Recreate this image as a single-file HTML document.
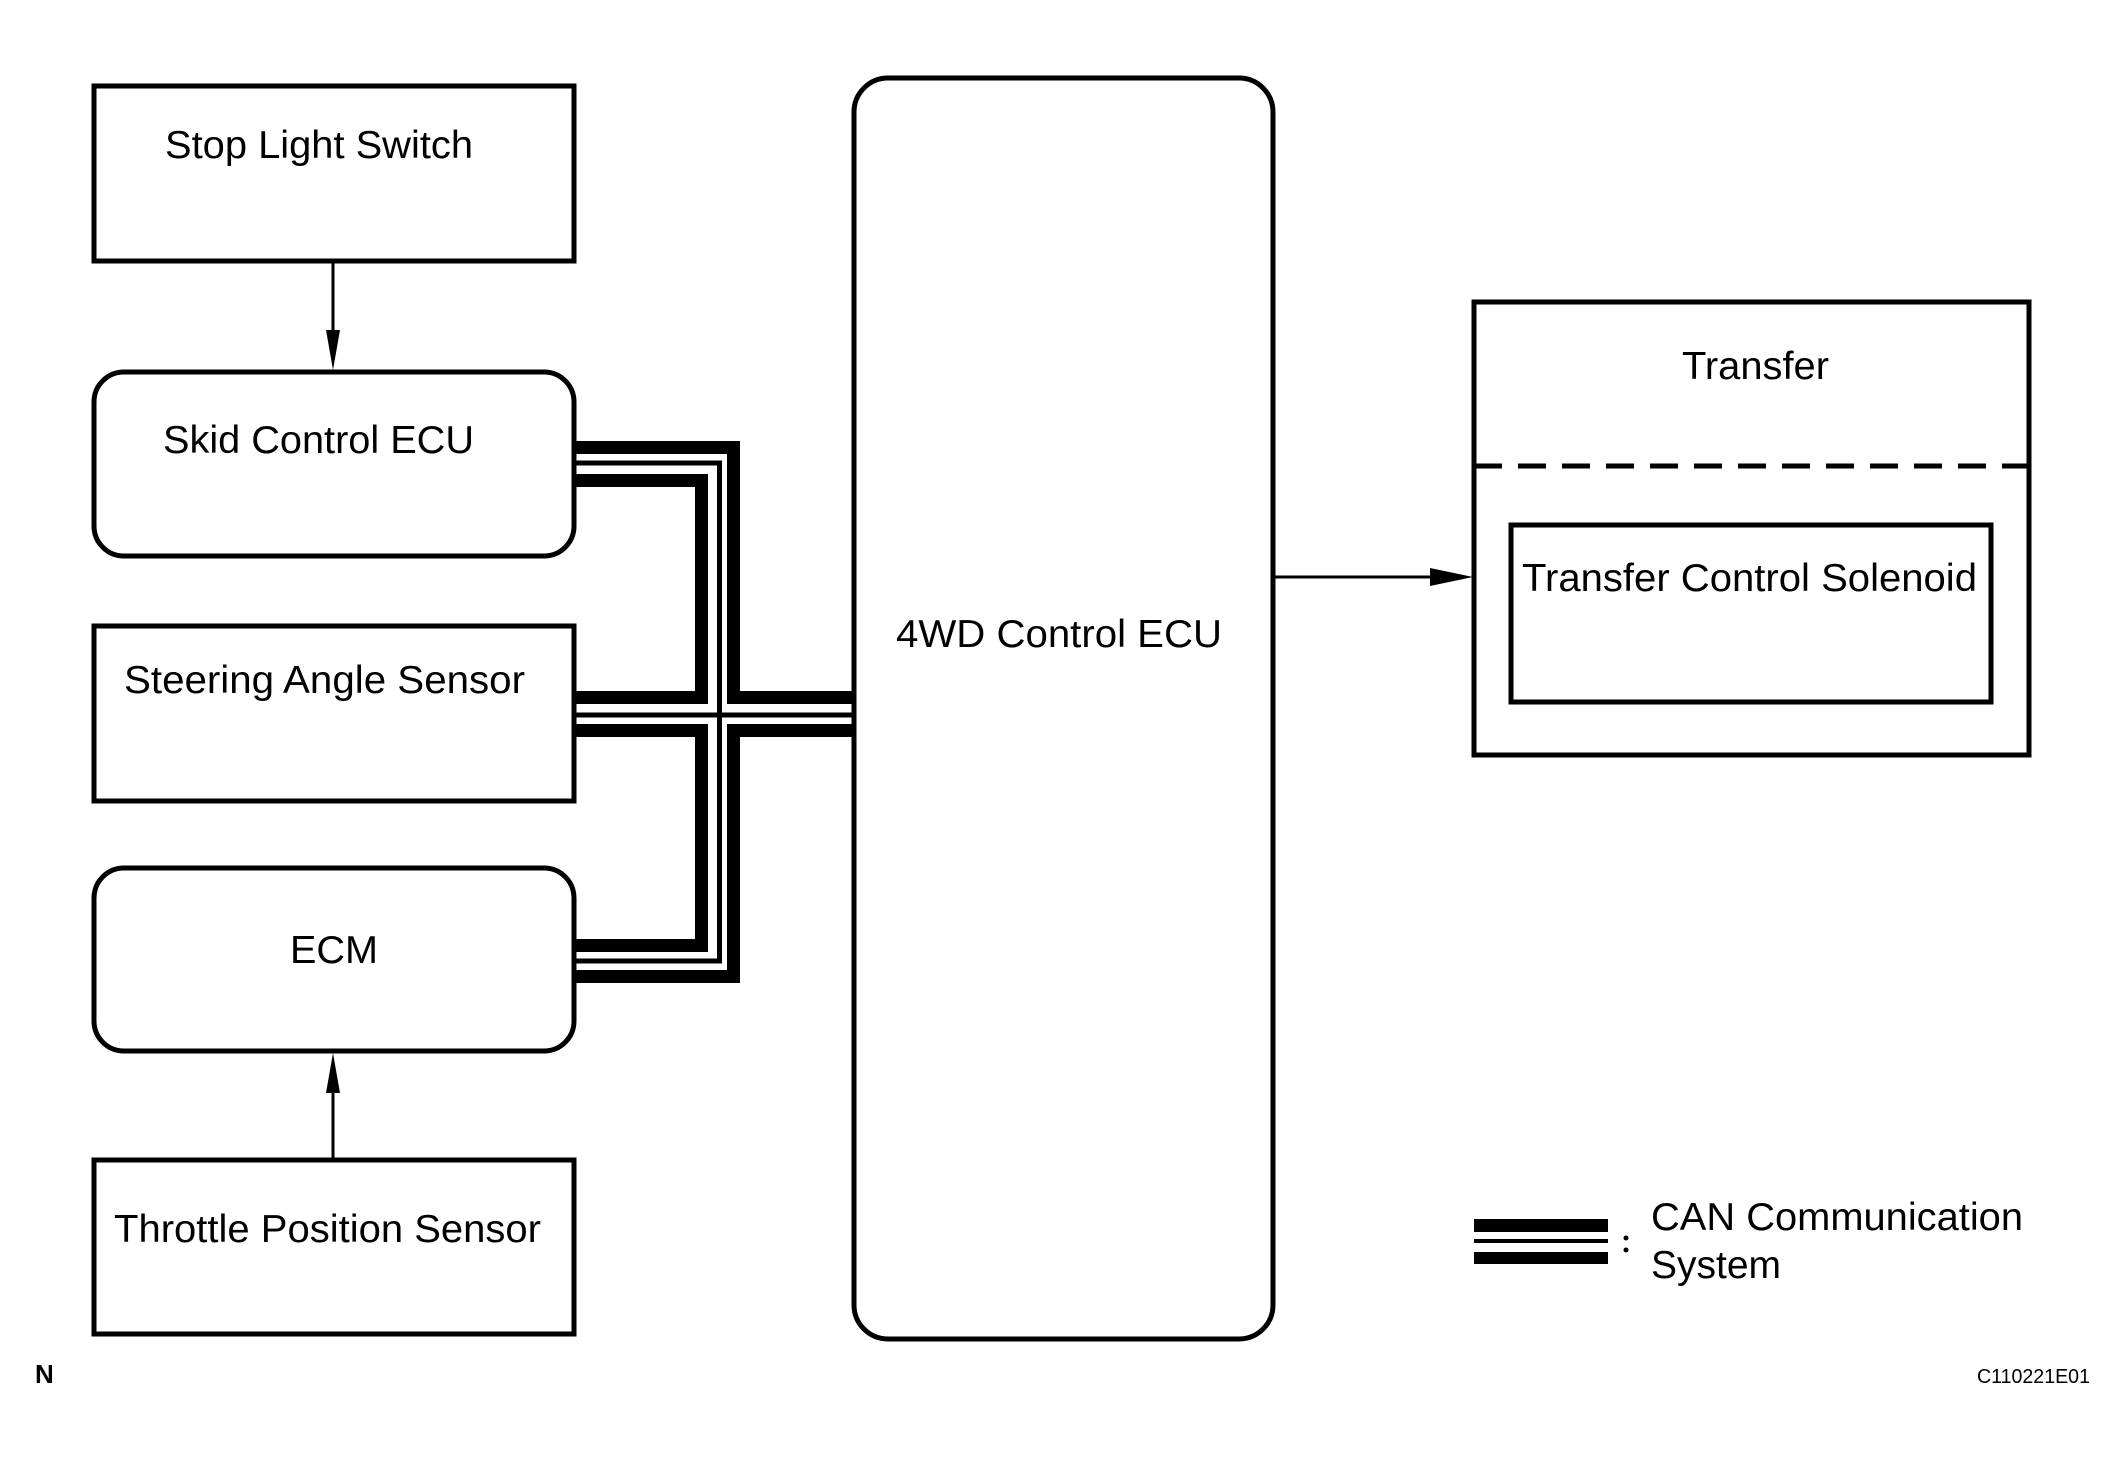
<!DOCTYPE html>
<html><head><meta charset="utf-8"><style>
html,body{margin:0;padding:0;background:#fff;}
svg{display:block;}
text{font-family:"Liberation Sans",Arial,sans-serif;fill:#000;}
</style></head><body>
<svg width="2124" height="1462" viewBox="0 0 2124 1462" xmlns="http://www.w3.org/2000/svg">
<rect width="2124" height="1462" fill="#fff"/>
<g fill="none" stroke="#000" stroke-linejoin="miter" stroke-linecap="butt">
  <path d="M574 447.5 H733.5 V697.5 H852" stroke-width="13"/>
  <path d="M574 480.5 H701.5 V697.5 H574" stroke-width="13"/>
  <path d="M574 976.5 H733.5 V730.5 H852" stroke-width="13"/>
  <path d="M574 945.5 H701.5 V730.5 H574" stroke-width="13"/>
  <path d="M574 463 H719.5 V961 H574" stroke-width="5"/>
  <path d="M574 715 H852" stroke-width="5"/>
</g>
<g fill="#fff" stroke="#000" stroke-width="5">
  <rect x="94" y="86" width="480" height="175"/>
  <rect x="94" y="372" width="480" height="184" rx="30"/>
  <rect x="94" y="626" width="480" height="175"/>
  <rect x="94" y="868" width="480" height="183" rx="30"/>
  <rect x="94" y="1160" width="480" height="174"/>
  <rect x="854" y="78" width="419" height="1261" rx="34"/>
  <rect x="1474" y="302" width="555" height="453"/>
  <rect x="1511" y="525" width="480" height="177"/>
</g>
<line x1="1474" y1="466" x2="2029" y2="466" stroke="#000" stroke-width="5" stroke-dasharray="28,16"/>
<g stroke="#000" stroke-width="3">
  <line x1="333" y1="261" x2="333" y2="335"/>
  <line x1="333" y1="1160" x2="333" y2="1090"/>
  <line x1="1273" y1="577" x2="1435" y2="577"/>
</g>
<g fill="#000">
  <polygon points="326,330 340,330 333,370"/>
  <polygon points="326,1093 340,1093 333,1053"/>
  <polygon points="1430,568 1430,586 1473,577"/>
</g>
<g font-size="39">
  <text x="165" y="158" textLength="308" lengthAdjust="spacingAndGlyphs">Stop Light Switch</text>
  <text x="163" y="453" textLength="311" lengthAdjust="spacingAndGlyphs">Skid Control ECU</text>
  <text x="124" y="693" textLength="401" lengthAdjust="spacingAndGlyphs">Steering Angle Sensor</text>
  <text x="290" y="963" textLength="88" lengthAdjust="spacingAndGlyphs">ECM</text>
  <text x="114" y="1242" textLength="427" lengthAdjust="spacingAndGlyphs">Throttle Position Sensor</text>
  <text x="896" y="647" textLength="326" lengthAdjust="spacingAndGlyphs">4WD Control ECU</text>
  <text x="1682" y="379" textLength="147" lengthAdjust="spacingAndGlyphs">Transfer</text>
  <text x="1522" y="591" textLength="455" lengthAdjust="spacingAndGlyphs">Transfer Control Solenoid</text>
  <text x="1651" y="1230" textLength="372" lengthAdjust="spacingAndGlyphs">CAN Communication</text>
  <text x="1651" y="1278" textLength="130" lengthAdjust="spacingAndGlyphs">System</text>
</g>
<rect x="1474" y="1219" width="134" height="13" fill="#000"/>
<rect x="1474" y="1239" width="134" height="4" fill="#000"/>
<rect x="1474" y="1252" width="134" height="12" fill="#000"/>
<circle cx="1626" cy="1238" r="2.5" fill="#000"/>
<circle cx="1626" cy="1250" r="2.5" fill="#000"/>
<text x="35" y="1383" font-size="26" font-weight="bold">N</text>
<text x="1977" y="1383" font-size="20" textLength="113" lengthAdjust="spacingAndGlyphs">C110221E01</text>
</svg>
</body></html>
